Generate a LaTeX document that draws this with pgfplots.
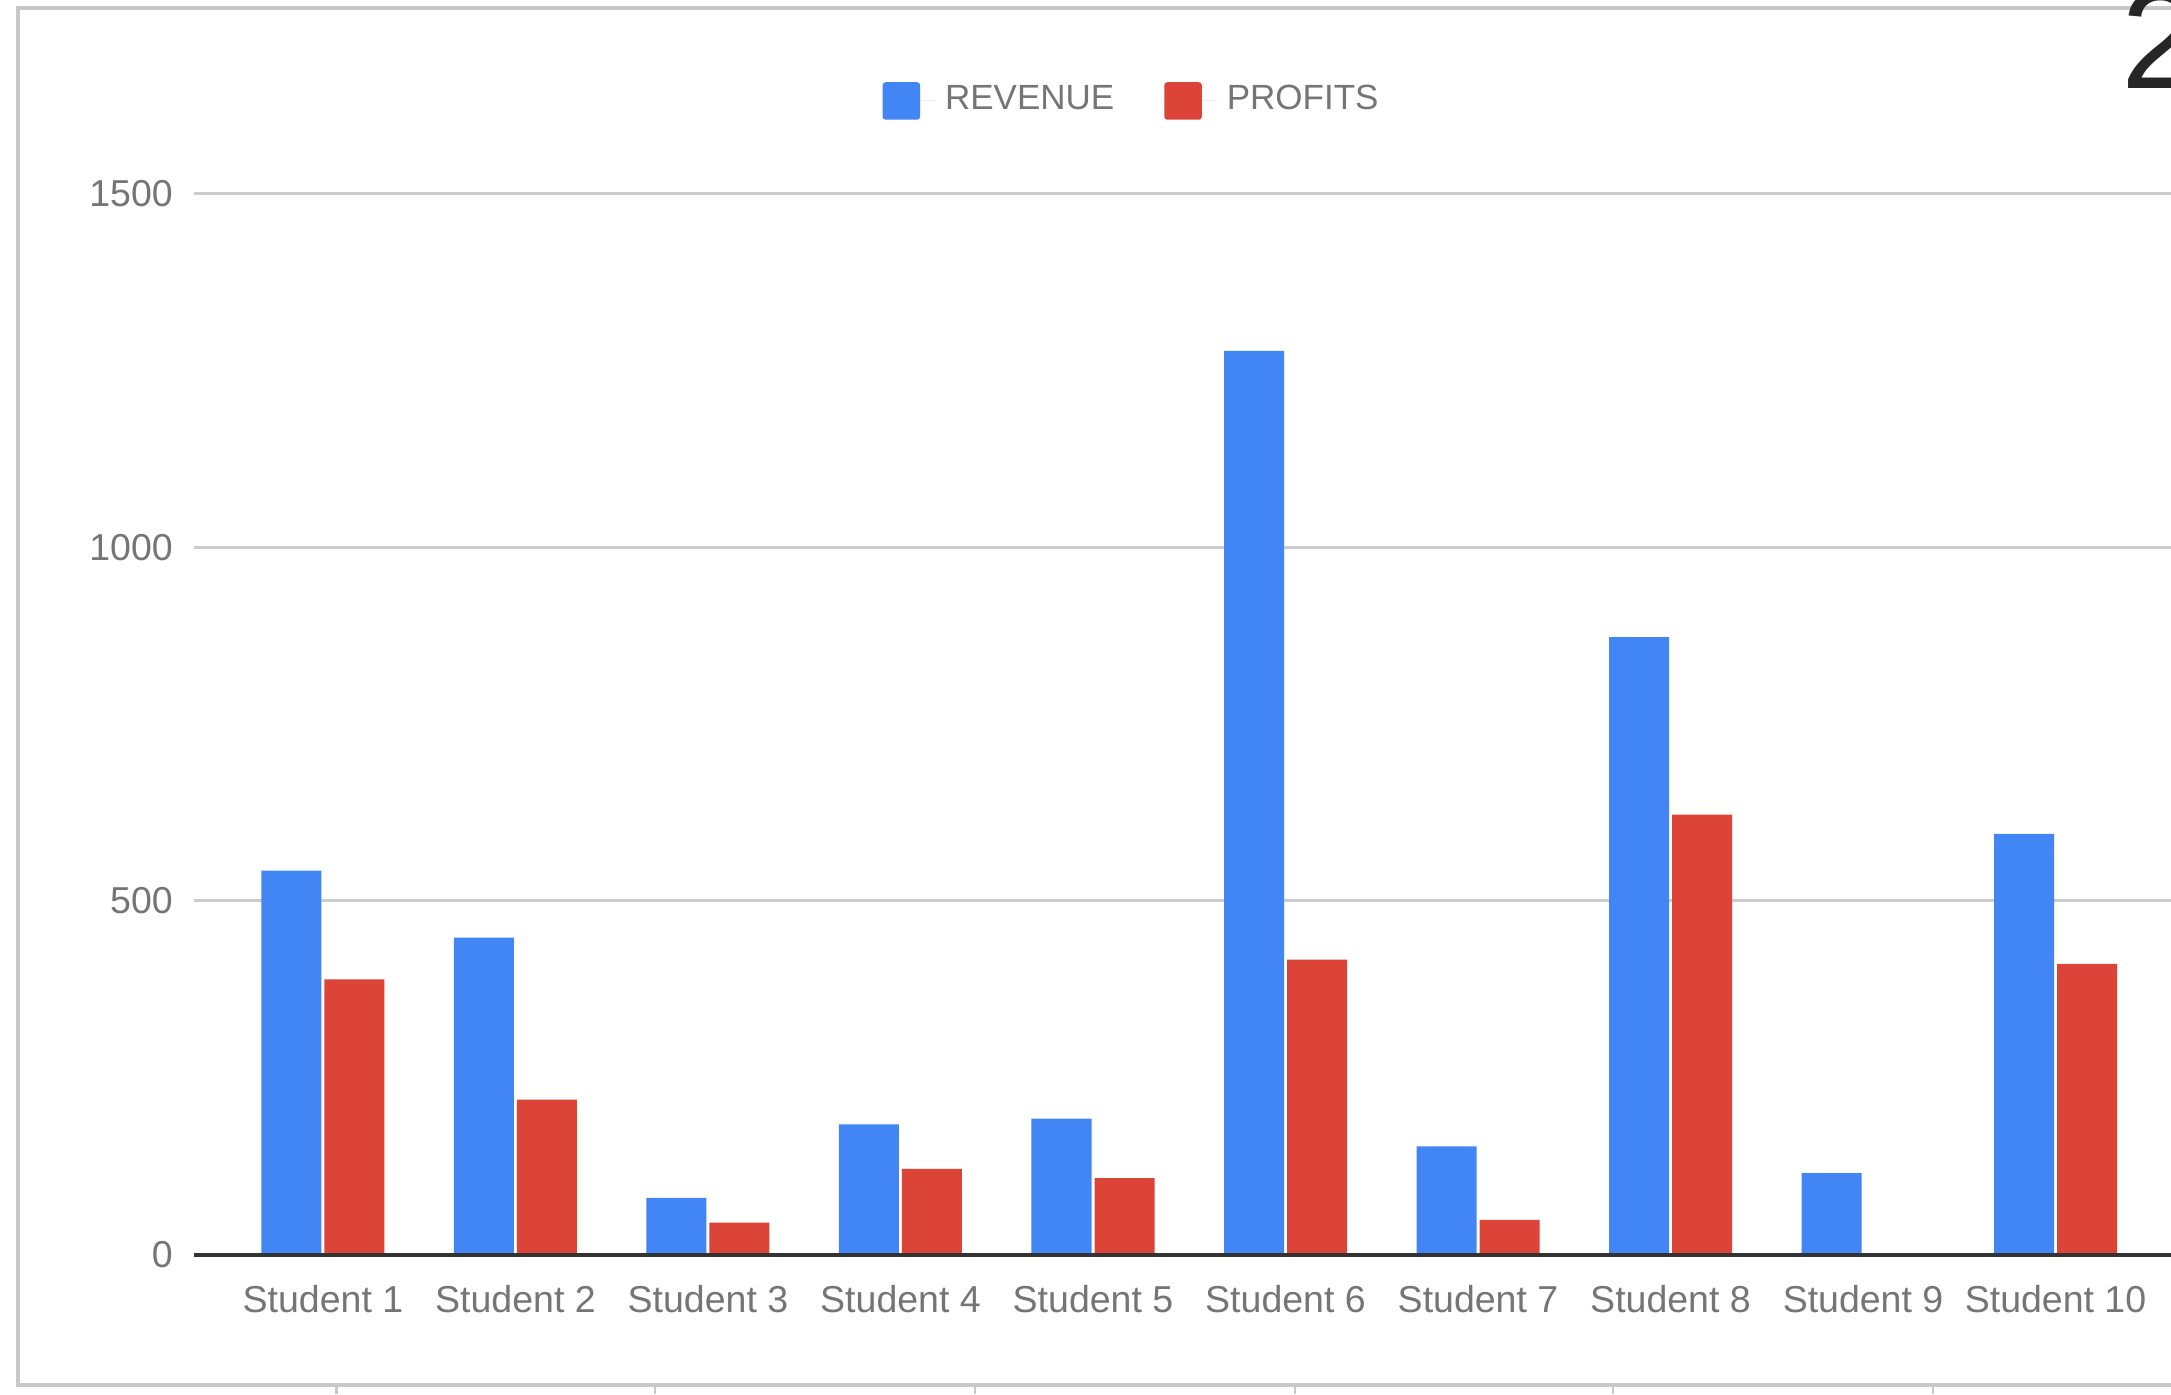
\documentclass[border=0pt]{standalone}
\usepackage{fontspec}
\setmainfont{Liberation Sans}
\usepackage{pgfplots}
\pgfplotsset{compat=1.18}
\definecolor{gblue}{HTML}{4285F4}
\definecolor{gred}{HTML}{DB4437}
\definecolor{txt}{HTML}{757575}
\definecolor{gridc}{HTML}{CCCCCC}
\definecolor{framec}{HTML}{C8C8C8}
\begin{document}
\begin{tikzpicture}
\useasboundingbox (0,0) rectangle (434.2pt,278.8pt);
\fill[white] (0,0) rectangle (434.2pt,278.8pt);
\begin{axis}[
  at={(38.76pt,27.9pt)}, anchor=south west,
  scale only axis, width=395.44pt, height=212.14pt,
  xmin=-0.671, xmax=9.6, ymin=0, ymax=1500,
  ybar=0.6pt, bar width=12pt,
  xtick={0,...,9},
  xticklabels={Student 1,Student 2,Student 3,Student 4,Student 5,Student 6,Student 7,Student 8,Student 9,Student 10},
  ytick={0,500,1000,1500},
  ymajorgrids, grid style={gridc, line width=0.6pt},
  axis line style={draw=none},
  major tick length=0pt,
  tick label style={font=\fontsize{7.5}{9}\selectfont, text=txt},
  yticklabel style={inner sep=0pt, xshift=-4pt},
  xticklabel style={inner sep=0pt, yshift=-6pt},
  /pgf/number format/assume math mode=true,
  /pgf/number format/1000 sep={},
  legend style={at={(0.4763,1.0875)}, anchor=center, draw=none, fill=none,
    font=\fontsize{7}{8}\selectfont, text=txt, legend columns=2,
    /tikz/every even column/.append style={column sep=8pt}},
  legend image code/.code={\fill[#1, rounded corners=0.6pt] (0pt,-3.75pt) rectangle (7.5pt,3.75pt); \path (7.5pt,0pt) -- (10.5pt,0pt);},
  clip=false,
]
\addplot[fill=gblue, draw=none] coordinates {(0,543) (1,448) (2,80) (3,184) (4,192) (5,1278) (6,153) (7,873) (8,115) (9,595)};
\addplot[fill=gred, draw=none] coordinates {(0,389) (1,219) (2,45) (3,121) (4,108) (5,417) (6,49) (7,622) (8,0) (9,411)};
\legend{REVENUE, PROFITS}
\draw[black!80, line width=0.8pt] (axis cs:-0.671,0) -- (axis cs:9.6,0);
\end{axis}
\draw[framec, line width=0.8pt] (434.2pt,277.2pt) -- (3.6pt,277.2pt) -- (3.6pt,1.8pt) -- (434.2pt,1.8pt);
\foreach \x in {67.3,131,195,259,322.6,386.6} \draw[framec, line width=0.5pt] (\x pt,0) -- (\x pt,1.4pt);
\node[anchor=base west, inner sep=0pt, font=\fontsize{28}{28}\selectfont, text=black!85] at (424.0pt,261.0pt) {2};
\end{tikzpicture}
\end{document}
